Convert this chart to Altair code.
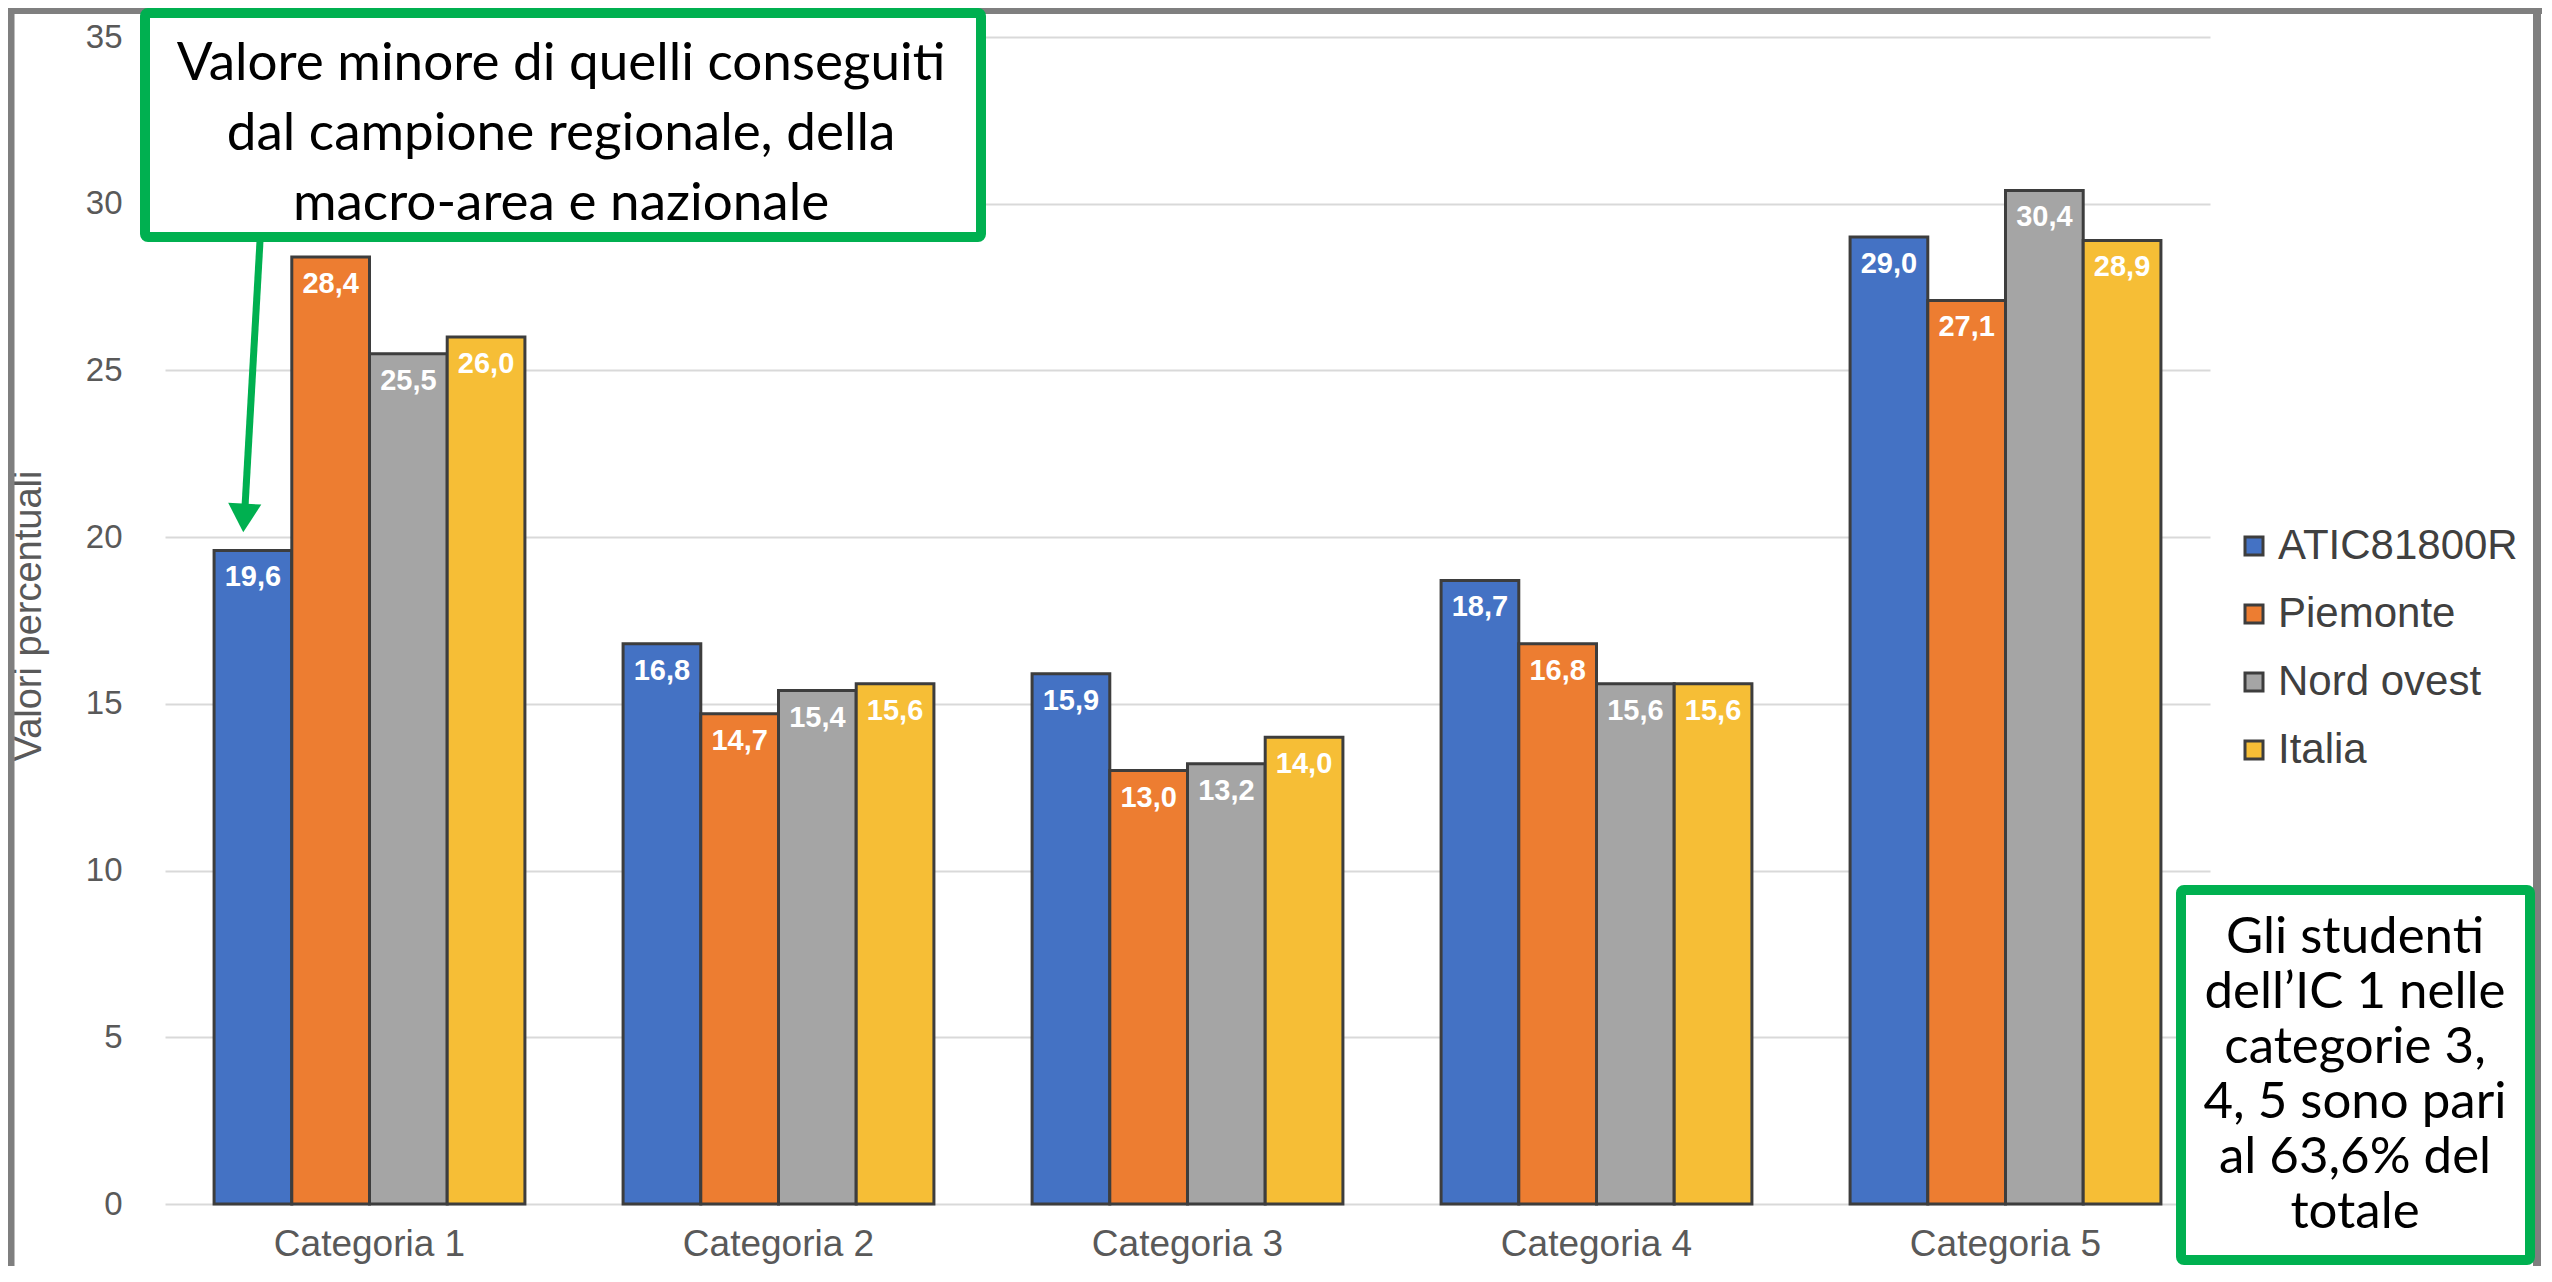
import altair as alt
import pandas as pd

categories = ["Categoria 1", "Categoria 2", "Categoria 3", "Categoria 4", "Categoria 5"]
series = ["ATIC81800R", "Piemonte", "Nord ovest", "Italia"]
atic = [19.6, 16.8, 15.9, 18.7, 29.0]
piemonte = [28.4, 14.7, 13.0, 16.8, 27.1]
nord_ovest = [25.5, 15.4, 13.2, 15.6, 30.4]
italia = [26.0, 15.6, 14.0, 15.6, 28.9]
colors = ["#4472C4", "#ED7D31", "#A5A5A5", "#F6BE36"]
y_ticks = [0, 5, 10, 15, 20, 25, 30, 35]

note_left = ["Valore minore di quelli conseguiti", "dal campione regionale, della", "macro-area e nazionale"]
note_right = ["Gli studenti", "dell\u2019IC 1 nelle", "categorie 3,", "4, 5 sono pari", "al 63,6% del", "totale"]

rows = []
for s, vals in zip(series, [atic, piemonte, nord_ovest, italia]):
    for c, v in zip(categories, vals):
        rows.append({"categoria": c, "serie": s, "valore": v})
df = pd.DataFrame(rows)

W, H = 2045, 1167
GREEN = "#00B050"
FONT = "Liberation Sans"
NOTE_FONT = "Lato"

x = alt.X("categoria:N", sort=categories,
          scale=alt.Scale(paddingInner=0.24, paddingOuter=0.12),
          axis=alt.Axis(title=None, labelAngle=0, labelFontSize=37, labelColor="#595959",
                        labelFont=FONT, labelPadding=22, labelLimit=0,
                        domain=False, ticks=False, grid=False))
xo = alt.XOffset("serie:N", sort=series, scale=alt.Scale(paddingInner=0, paddingOuter=0))
y = alt.Y("valore:Q", scale=alt.Scale(domain=[0, 35], nice=False, zero=True),
          axis=alt.Axis(values=y_ticks, title="Valori percentuali", titleFont=FONT, titleFontSize=38,
                        titleFontWeight="normal", titleColor="#595959", titleAngle=-90,
                        titleX=-136, titleY=H / 2 - 5, titleBaseline="middle", titleAlign="center",
                        labelFont=FONT, labelFontSize=33, labelColor="#595959", labelPadding=43,
                        domain=False, ticks=False, gridColor="#d9d9d9", gridWidth=2))

bars = alt.Chart(df).mark_bar(stroke="#3d3d3d", strokeWidth=3, opacity=1).encode(
    x=x, xOffset=xo, y=y,
    color=alt.Color("serie:N", sort=series,
                    scale=alt.Scale(domain=series, range=colors),
                    legend=alt.Legend(title=None, orient="none", legendX=2068, legendY=488,
                                      labelFont=FONT, labelFontSize=42, labelColor="#404040",
                                      labelLimit=0,
                                      symbolType="square", symbolSize=324, symbolStrokeColor="#3d3d3d",
                                      symbolStrokeWidth=3, symbolOpacity=1, labelOffset=3,
                                      rowPadding=26)))

labels = alt.Chart(df).transform_calculate(
    etichetta="replace(format(datum.valore, '.1f'), '.', ',')"
).mark_text(baseline="middle", dy=27, color="white", font=FONT, fontWeight="bold", fontSize=29).encode(
    x=x, xOffset=xo, y=y, text="etichetta:N")

one = pd.DataFrame({"k": [0]})

frame_left = alt.Chart(one).mark_rule(color="#7f7f7f", strokeWidth=7).encode(
    x=alt.value(-154), y=alt.value(-40), y2=alt.value(1300))
frame_top = alt.Chart(one).mark_rule(color="#7f7f7f", strokeWidth=6).encode(
    x=alt.value(-160), x2=alt.value(2400), y=alt.value(-26))
frame_right = alt.Chart(one).mark_rule(color="#7f7f7f", strokeWidth=8).encode(
    x=alt.value(2372), y=alt.value(-40), y2=alt.value(1300))

box1 = alt.Chart(one).mark_rect(fill="white", stroke=GREEN, strokeWidth=10, cornerRadius=3).encode(
    x=alt.value(-20), x2=alt.value(816), y=alt.value(-24), y2=alt.value(200))
text1 = alt.Chart(one).mark_text(text=note_left, font=NOTE_FONT, fontSize=53, lineHeight=70,
                                 align="center", baseline="middle", color="black").encode(
    x=alt.value(396), y=alt.value(27))

arrow_line = alt.Chart(one).mark_rule(color=GREEN, strokeWidth=7).encode(
    x=alt.value(95), y=alt.value(204), x2=alt.value(80), y2=alt.value(470))
arrow_head = alt.Chart(one).mark_point(shape="triangle-down", size=1100, filled=True, fill=GREEN,
                                       opacity=1, strokeWidth=0, angle=3).encode(
    x=alt.value(79), y=alt.value(481))

box2 = alt.Chart(one).mark_rect(fill="white", stroke=GREEN, strokeWidth=10, cornerRadius=3).encode(
    x=alt.value(2016), x2=alt.value(2365), y=alt.value(853), y2=alt.value(1223))
text2 = alt.Chart(one).mark_text(text=note_right, font=NOTE_FONT, fontSize=51, lineHeight=55,
                                 align="center", baseline="middle", color="black").encode(
    x=alt.value(2190), y=alt.value(901))

chart = alt.layer(
    bars, labels, frame_left, frame_top, frame_right,
    arrow_line, arrow_head, box1, text1, box2, text2
).properties(
    width=W, height=H,
    autosize=alt.AutoSizeParams(type="none"),
    padding={"left": 157, "top": 29, "right": 332, "bottom": 62},
    background="white"
).configure_view(stroke=None)

chart.save("out.html", embed_options={"renderer": "svg", "actions": False})
